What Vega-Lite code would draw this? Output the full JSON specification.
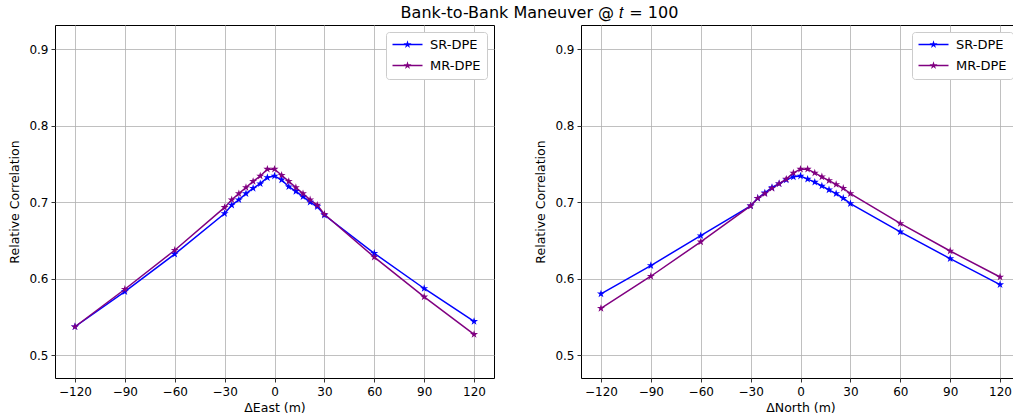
{
  "$schema": "https://vega.github.io/schema/vega-lite/v6.json",
  "padding": {"left": 8, "top": 4, "right": 0, "bottom": 0},
  "background": "white",
  "config": {
    "font": "DejaVu Sans",
    "view": {"stroke": "black", "strokeWidth": 1},
    "axis": {
      "domain": false,
      "grid": true,
      "gridColor": "#b0b0b0",
      "gridWidth": 0.8,
      "tickColor": "black",
      "tickSize": 4,
      "tickWidth": 0.8,
      "labelFontSize": 12,
      "labelColor": "black",
      "labelPadding": 3,
      "titleFontSize": 12.5,
      "titleFontWeight": "normal",
      "titleColor": "black"
    },
    "axisY": {"titlePadding": 7},
    "axisX": {"titlePadding": 4, "labelPadding": 4},
    "legend": {
      "orient": "top-right",
      "offset": 7,
      "fillColor": "white",
      "strokeColor": "#cccccc",
      "cornerRadius": 3,
      "padding": 6,
      "labelFontSize": 13,
      "labelColor": "black",
      "labelOffset": 16,
      "rowPadding": 7,
      "symbolSize": 144,
      "symbolOffset": 9,
      "symbolStrokeWidth": 0,
      "symbolType": "M-2.5,-0.12H2.5V0.12H-2.5Z M0,-0.7L0.157,-0.216L0.666,-0.216L0.254,0.083L0.412,0.566L0,0.267L-0.412,0.566L-0.254,0.083L-0.666,-0.216L-0.157,-0.216Z"
    }
  },
  "title": {
    "text": "Bank-to-Bank Maneuver @ 𝑡 = 100",
    "fontSize": 16,
    "fontWeight": "normal",
    "color": "black",
    "anchor": "middle",
    "offset": 4,
    "dx": 25
  },
  "bounds": "flush",
  "spacing": 87,
  "datasets": {
    "east": [
      {"method": "SR-DPE", "d": -120, "v": 0.537},
      {"method": "SR-DPE", "d": -90, "v": 0.583},
      {"method": "SR-DPE", "d": -60, "v": 0.632},
      {"method": "SR-DPE", "d": -30, "v": 0.685},
      {"method": "SR-DPE", "d": -25.714, "v": 0.696},
      {"method": "SR-DPE", "d": -21.429, "v": 0.703},
      {"method": "SR-DPE", "d": -17.143, "v": 0.711},
      {"method": "SR-DPE", "d": -12.857, "v": 0.718},
      {"method": "SR-DPE", "d": -8.571, "v": 0.724},
      {"method": "SR-DPE", "d": -4.286, "v": 0.732},
      {"method": "SR-DPE", "d": 0, "v": 0.734},
      {"method": "SR-DPE", "d": 4.286, "v": 0.729},
      {"method": "SR-DPE", "d": 8.571, "v": 0.720},
      {"method": "SR-DPE", "d": 12.857, "v": 0.714},
      {"method": "SR-DPE", "d": 17.143, "v": 0.707},
      {"method": "SR-DPE", "d": 21.429, "v": 0.700},
      {"method": "SR-DPE", "d": 25.714, "v": 0.694},
      {"method": "SR-DPE", "d": 30, "v": 0.683},
      {"method": "SR-DPE", "d": 60, "v": 0.633},
      {"method": "SR-DPE", "d": 90, "v": 0.587},
      {"method": "SR-DPE", "d": 120, "v": 0.544},
      {"method": "MR-DPE", "d": -120, "v": 0.537},
      {"method": "MR-DPE", "d": -90, "v": 0.586},
      {"method": "MR-DPE", "d": -60, "v": 0.637},
      {"method": "MR-DPE", "d": -30, "v": 0.693},
      {"method": "MR-DPE", "d": -25.714, "v": 0.703},
      {"method": "MR-DPE", "d": -21.429, "v": 0.711},
      {"method": "MR-DPE", "d": -17.143, "v": 0.719},
      {"method": "MR-DPE", "d": -12.857, "v": 0.727},
      {"method": "MR-DPE", "d": -8.571, "v": 0.734},
      {"method": "MR-DPE", "d": -4.286, "v": 0.743},
      {"method": "MR-DPE", "d": 0, "v": 0.743},
      {"method": "MR-DPE", "d": 4.286, "v": 0.735},
      {"method": "MR-DPE", "d": 8.571, "v": 0.727},
      {"method": "MR-DPE", "d": 12.857, "v": 0.719},
      {"method": "MR-DPE", "d": 17.143, "v": 0.711},
      {"method": "MR-DPE", "d": 21.429, "v": 0.703},
      {"method": "MR-DPE", "d": 25.714, "v": 0.696},
      {"method": "MR-DPE", "d": 30, "v": 0.684},
      {"method": "MR-DPE", "d": 60, "v": 0.628},
      {"method": "MR-DPE", "d": 90, "v": 0.576},
      {"method": "MR-DPE", "d": 120, "v": 0.527}
    ],
    "north": [
      {"method": "SR-DPE", "d": -120, "v": 0.580},
      {"method": "SR-DPE", "d": -90, "v": 0.617},
      {"method": "SR-DPE", "d": -60, "v": 0.656},
      {"method": "SR-DPE", "d": -30, "v": 0.695},
      {"method": "SR-DPE", "d": -25.714, "v": 0.705},
      {"method": "SR-DPE", "d": -21.429, "v": 0.712},
      {"method": "SR-DPE", "d": -17.143, "v": 0.719},
      {"method": "SR-DPE", "d": -12.857, "v": 0.724},
      {"method": "SR-DPE", "d": -8.571, "v": 0.729},
      {"method": "SR-DPE", "d": -4.286, "v": 0.733},
      {"method": "SR-DPE", "d": 0, "v": 0.734},
      {"method": "SR-DPE", "d": 4.286, "v": 0.730},
      {"method": "SR-DPE", "d": 8.571, "v": 0.726},
      {"method": "SR-DPE", "d": 12.857, "v": 0.721},
      {"method": "SR-DPE", "d": 17.143, "v": 0.716},
      {"method": "SR-DPE", "d": 21.429, "v": 0.711},
      {"method": "SR-DPE", "d": 25.714, "v": 0.705},
      {"method": "SR-DPE", "d": 30, "v": 0.698},
      {"method": "SR-DPE", "d": 60, "v": 0.661},
      {"method": "SR-DPE", "d": 90, "v": 0.626},
      {"method": "SR-DPE", "d": 120, "v": 0.592},
      {"method": "MR-DPE", "d": -120, "v": 0.561},
      {"method": "MR-DPE", "d": -90, "v": 0.603},
      {"method": "MR-DPE", "d": -60, "v": 0.648},
      {"method": "MR-DPE", "d": -30, "v": 0.695},
      {"method": "MR-DPE", "d": -25.714, "v": 0.705},
      {"method": "MR-DPE", "d": -21.429, "v": 0.711},
      {"method": "MR-DPE", "d": -17.143, "v": 0.718},
      {"method": "MR-DPE", "d": -12.857, "v": 0.724},
      {"method": "MR-DPE", "d": -8.571, "v": 0.730},
      {"method": "MR-DPE", "d": -4.286, "v": 0.738},
      {"method": "MR-DPE", "d": 0, "v": 0.743},
      {"method": "MR-DPE", "d": 4.286, "v": 0.743},
      {"method": "MR-DPE", "d": 8.571, "v": 0.738},
      {"method": "MR-DPE", "d": 12.857, "v": 0.733},
      {"method": "MR-DPE", "d": 17.143, "v": 0.728},
      {"method": "MR-DPE", "d": 21.429, "v": 0.723},
      {"method": "MR-DPE", "d": 25.714, "v": 0.718},
      {"method": "MR-DPE", "d": 30, "v": 0.711},
      {"method": "MR-DPE", "d": 60, "v": 0.672},
      {"method": "MR-DPE", "d": 90, "v": 0.636},
      {"method": "MR-DPE", "d": 120, "v": 0.602}
    ]
  },
  "resolve": {"legend": {"color": "independent"}},
  "hconcat": [
    {
      "width": 439,
      "height": 353,
      "data": {"name": "east"},
      "encoding": {
        "x": {"field": "d", "type": "quantitative", "scale": {"domain": [-132, 132], "nice": false, "zero": false},
              "axis": {"values": [-120, -90, -60, -30, 0, 30, 60, 90, 120], "title": "ΔEast (m)"}},
        "y": {"field": "v", "type": "quantitative", "scale": {"domain": [0.47, 0.9314], "nice": false, "zero": false},
              "axis": {"values": [0.5, 0.6, 0.7, 0.8, 0.9], "format": ".1f", "title": "Relative Correlation"}},
        "color": {"field": "method", "type": "nominal",
                  "scale": {"domain": ["SR-DPE", "MR-DPE"], "range": ["#0000ff", "#800080"]},
                  "legend": {"title": null}}
      },
      "layer": [
        {"mark": {"type": "line", "strokeWidth": 1.5}},
        {"mark": {"type": "point", "filled": true, "opacity": 1, "size": 70,
                  "shape": "M0,-1L0.2245,-0.309L0.951,-0.309L0.363,0.118L0.588,0.809L0,0.382L-0.588,0.809L-0.363,0.118L-0.951,-0.309L-0.2245,-0.309Z"}}
      ]
    },
    {
      "width": 439,
      "height": 353,
      "data": {"name": "north"},
      "encoding": {
        "x": {"field": "d", "type": "quantitative", "scale": {"domain": [-132, 132], "nice": false, "zero": false},
              "axis": {"values": [-120, -90, -60, -30, 0, 30, 60, 90, 120], "title": "ΔNorth (m)"}},
        "y": {"field": "v", "type": "quantitative", "scale": {"domain": [0.47, 0.9314], "nice": false, "zero": false},
              "axis": {"values": [0.5, 0.6, 0.7, 0.8, 0.9], "format": ".1f", "title": "Relative Correlation"}},
        "color": {"field": "method", "type": "nominal",
                  "scale": {"domain": ["SR-DPE", "MR-DPE"], "range": ["#0000ff", "#800080"]},
                  "legend": {"title": null}}
      },
      "layer": [
        {"mark": {"type": "line", "strokeWidth": 1.5}},
        {"mark": {"type": "point", "filled": true, "opacity": 1, "size": 70,
                  "shape": "M0,-1L0.2245,-0.309L0.951,-0.309L0.363,0.118L0.588,0.809L0,0.382L-0.588,0.809L-0.363,0.118L-0.951,-0.309L-0.2245,-0.309Z"}}
      ]
    }
  ]
}
